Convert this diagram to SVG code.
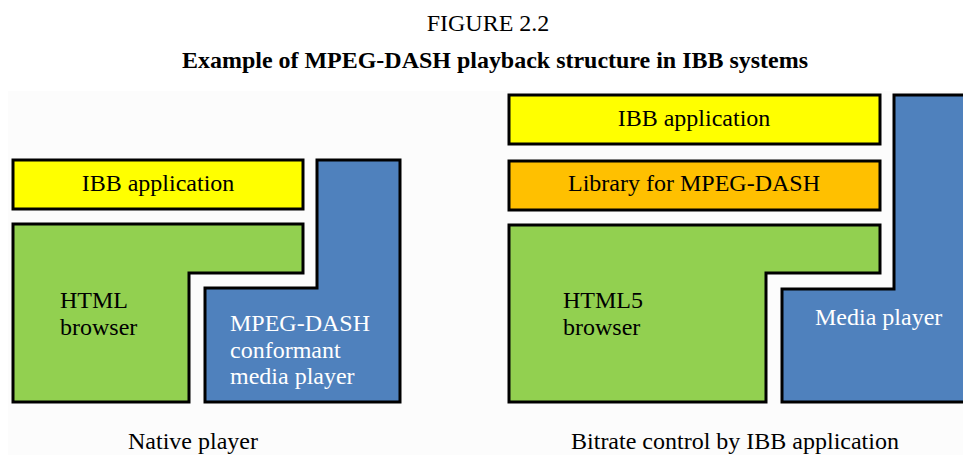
<svg xmlns="http://www.w3.org/2000/svg" width="963" height="455" viewBox="0 0 963 455">
<style>
.t{font-family:"Liberation Serif","Times New Roman",serif;font-size:24px;fill:#000}
.w{fill:#fff}
.c{text-anchor:middle}
.box{stroke:#000;stroke-width:3;stroke-linejoin:miter}
.y{fill:#ffff00}.o{fill:#ffc000}.g{fill:#92d050}.b{fill:#4f81bd}
</style>
<rect x="0" y="0" width="963" height="455" fill="#ffffff"/>
<rect x="8" y="91" width="955" height="364" fill="#fcfcfc"/>
<text class="t c" x="488" y="31" font-size="21">FIGURE 2.2</text>
<text class="t c" x="495" y="68" font-weight="bold" textLength="626" lengthAdjust="spacingAndGlyphs">Example of MPEG-DASH playback structure in IBB systems</text>
<g id="connectors"></g>
<g id="left-ibb-app">
<rect class="box y" x="13" y="160" width="290" height="49"/>
<text class="t c" x="158" y="191">IBB application</text>
</g>
<g id="left-html-browser">
<path class="box g" d="M13,224 H303 V273 H189 V402 H13 Z"/>
<text class="t" x="60" y="308">HTML</text>
<text class="t" x="60" y="335">browser</text>
</g>
<g id="left-media-player">
<path class="box b" d="M317,160 H400 V402 H205 V288 H317 Z"/>
<text class="t w" x="230" y="331">MPEG-DASH</text>
<text class="t w" x="230" y="358">conformant</text>
<text class="t w" x="230" y="384">media player</text>
</g>
<g id="right-ibb-app">
<rect class="box y" x="509" y="95" width="371" height="49"/>
<text class="t c" x="694" y="126">IBB application</text>
</g>
<g id="right-library">
<rect class="box o" x="509" y="161" width="371" height="49"/>
<text class="t c" x="694" y="191">Library for MPEG-DASH</text>
</g>
<g id="right-html5-browser">
<path class="box g" d="M509,225 H880 V273 H766 V402 H509 Z"/>
<text class="t" x="563" y="308">HTML5</text>
<text class="t" x="563" y="335">browser</text>
</g>
<g id="right-media-player">
<path class="box b" d="M894,95 H975 V402 H782 V289 H894 Z"/>
<text class="t w" x="815" y="325">Media player</text>
</g>
<text class="t c" x="193" y="449">Native player</text>
<text class="t c" x="735" y="449">Bitrate control by IBB application</text>
</svg>
